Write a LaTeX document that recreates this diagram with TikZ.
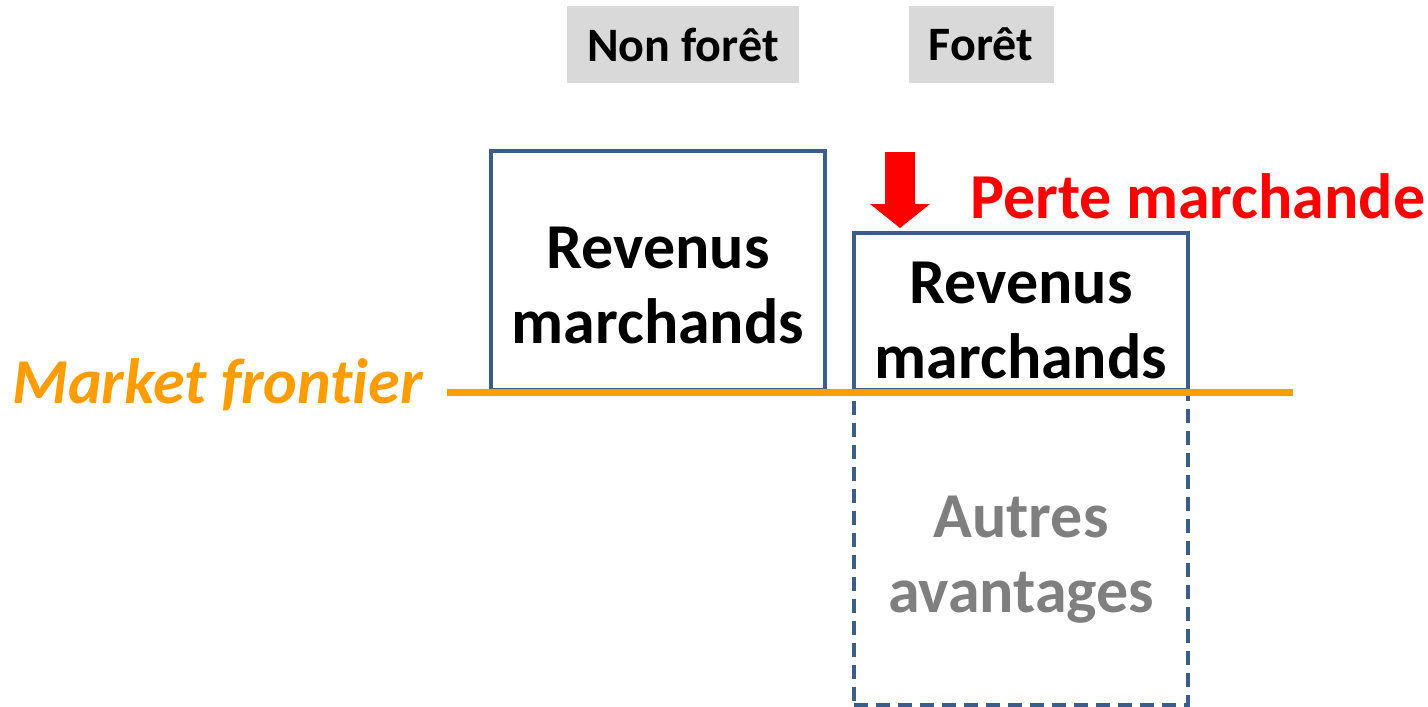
\documentclass[tikz,border=0pt]{standalone}
\usepackage{fontspec}
\setmainfont{Carlito}[Ligatures=NoCommon]
\definecolor{bleucadre}{HTML}{3A5D8C}
\definecolor{orangefr}{HTML}{FF9C00}
\definecolor{grisfond}{HTML}{D9D9D9}
\definecolor{gristexte}{HTML}{7F7F7F}
\tikzset{
  entete/.style={fill=grisfond, inner sep=0pt, minimum height=77pt, font=\fontsize{48}{54}\selectfont\bfseries},
  cadre/.style={draw=bleucadre, line width=4pt, minimum width=334pt, inner sep=0pt},
  texte/.style={align=center, inner sep=0pt, anchor=base, font=\fontsize{64}{75}\selectfont\bfseries}
}
\begin{document}
\begin{tikzpicture}[x=1pt,y=-1pt]
\useasboundingbox (0,0) rectangle (1428,707);
% En-têtes gris
\node[entete, minimum width=232pt] (nonforet) at (683,44.5) {Non forêt};
\node[entete, minimum width=145pt] (foret) at (981,44.5) {Forêt};
% Les cadres : d'abord le pointillé, puis les traits pleins
\node[cadre, dashed, dash pattern=on 14pt off 8pt, minimum height=313pt] (autres) at (1021,548.5) {};
\node[cadre, minimum height=239pt] (revnf) at (658,270.5) {};
\node[cadre, minimum height=157pt] (revf) at (1021,311.5) {};
% la base d'un texte sur deux lignes est celle de la dernière ligne
\node[texte] (trevnf) at (658,343) {Revenus\\marchands};
\node[texte] (trevf) at (1021,378) {Revenus\\marchands};
\node[texte, text=gristexte] (tautres) at (1021,612) {Autres\\avantages};
% La frontière du marché passe par-dessus les cadres
\coordinate (fg) at (447,392.5);
\coordinate (fd) at (1293,392.5);
\draw[orangefr, line width=7pt] (fg) -- (fd);
\node[texte, text=orangefr, font=\fontsize{64}{75}\selectfont\bfseries\itshape, anchor=base west] (frontiere) at (12,403) {Market frontier};
% Flèche rouge : perte marchande
\coordinate (pointe) at (900,228);
\fill[red] (pointe) -- ++(-30,-24) -- ++(15,0) -- ++(0,-52) -- ++(30,0) -- ++(0,52) -- ++(15,0) -- cycle;
\node[texte, text=red, anchor=base west] (perte) at (970,218) {Perte marchande};
\end{tikzpicture}
\end{document}
